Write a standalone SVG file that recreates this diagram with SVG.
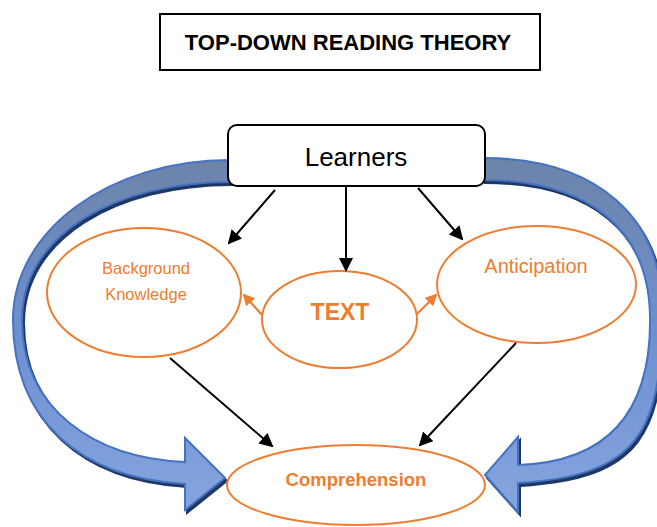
<svg xmlns="http://www.w3.org/2000/svg" width="657" height="527" viewBox="0 0 657 527">
  <style>
    .box { fill: #ffffff; stroke: #000000; stroke-width: 2; }
    .ell { fill: #ffffff; stroke: #ed7d31; stroke-width: 2; }
    .otxt { fill: #ed7d31; font-family: "Liberation Sans", Arial, sans-serif; text-anchor: middle; }
    .btxt { fill: #000000; font-family: "Liberation Sans", Arial, sans-serif; text-anchor: middle; }
    .blk { stroke: #000000; stroke-width: 2; fill: none; marker-end: url(#ah); }
    .org { stroke: #ed7d31; stroke-width: 2.2; fill: none; marker-end: url(#ahO); }
    .curve { fill: url(#bg); stroke: #4472c4; stroke-width: 2; stroke-linejoin: miter; }
    .shadow { fill: #1f3864; stroke: #1f3864; stroke-width: 2; }
  </style>
  <defs>
    <linearGradient id="bg" gradientUnits="userSpaceOnUse" x1="0" y1="158" x2="0" y2="512">
      <stop offset="0" stop-color="#6d84a9"/>
      <stop offset="0.5" stop-color="#6e90d0"/>
      <stop offset="1" stop-color="#86a5de"/>
    </linearGradient>
    <marker id="ah" viewBox="0 0 14 14" markerWidth="14" markerHeight="14" refX="12" refY="7" orient="auto" markerUnits="userSpaceOnUse">
      <path d="M0,0 L14,7 L0,14 Z" fill="#000000"/>
    </marker>
    <marker id="ahO" viewBox="0 0 12 12" markerWidth="12" markerHeight="12" refX="10" refY="6" orient="auto" markerUnits="userSpaceOnUse">
      <path d="M0,0 L12,6 L0,12 Z" fill="#ed7d31"/>
    </marker>
  </defs>

  <rect x="0" y="0" width="657" height="527" fill="#ffffff"/>

  <g id="title">
    <rect class="box" x="160" y="14" width="380" height="56"/>
    <text class="btxt" x="348" y="50" font-size="22" font-weight="bold">TOP-DOWN READING THEORY</text>
  </g>

  <g id="feedback-arrows">
    <g id="left-curved-arrow">
      <path class="shadow" transform="translate(2,3)" d="M230,160 C110,160 13,230 13,320 C13,420 80,478 185,484 L185,510 L225,478 L185,438 L185,462 C95,458 22,410 22,320 C22,235 115,182 230,182 Z"/>
      <path class="curve" d="M230,160 C110,160 13,230 13,320 C13,420 80,478 185,484 L185,510 L225,478 L185,438 L185,462 C95,458 22,410 22,320 C22,235 115,182 230,182 Z"/>
    </g>
    <g id="right-curved-arrow">
      <path class="shadow" transform="translate(2,3)" d="M483,158 C600,158 662,220 662,310 C662,430 640,476 518,483 L518,512 L485,475 L518,437 L518,465 C610,462 652,410 650,315 C648,230 590,180 483,180 Z"/>
      <path class="curve" d="M483,158 C600,158 662,220 662,310 C662,430 640,476 518,483 L518,512 L485,475 L518,437 L518,465 C610,462 652,410 650,315 C648,230 590,180 483,180 Z"/>
    </g>
  </g>

  <g id="learners">
    <rect class="box" x="228" y="125" width="257" height="61" rx="9" ry="9"/>
    <text class="btxt" x="356" y="166" font-size="26">Learners</text>
  </g>

  <g id="background-knowledge">
    <ellipse class="ell" cx="144" cy="292.5" rx="97" ry="64.5"/>
    <text class="otxt" x="146" y="274" font-size="16.5">Background</text>
    <text class="otxt" x="146" y="300" font-size="16.5">Knowledge</text>
  </g>

  <g id="text-node">
    <ellipse class="ell" cx="339.5" cy="319.5" rx="77.5" ry="48.5"/>
    <text class="otxt" x="340" y="320" font-size="23" font-weight="bold">TEXT</text>
  </g>

  <g id="anticipation">
    <ellipse class="ell" cx="536.5" cy="284.5" rx="99.5" ry="58.5"/>
    <text class="otxt" x="536" y="273" font-size="20">Anticipation</text>
  </g>

  <g id="comprehension">
    <ellipse class="ell" cx="356" cy="485" rx="129" ry="40"/>
    <text class="otxt" x="356" y="486" font-size="18.5" font-weight="bold">Comprehension</text>
  </g>

  <g id="connectors">
    <line class="blk" x1="275" y1="190" x2="229" y2="243"/>
    <line class="blk" x1="346" y1="186" x2="346" y2="270"/>
    <line class="blk" x1="418" y1="188" x2="462" y2="239"/>
    <line class="blk" x1="170" y1="358" x2="272" y2="446"/>
    <line class="blk" x1="516" y1="343" x2="420" y2="445"/>
    <line class="org" x1="262" y1="315" x2="244" y2="295"/>
    <line class="org" x1="417" y1="314" x2="436" y2="295"/>
  </g>
</svg>
